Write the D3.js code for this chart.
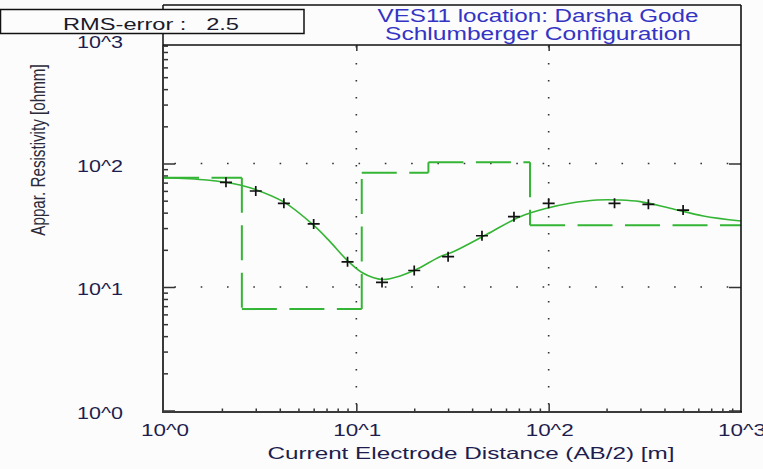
<!DOCTYPE html>
<html>
<head>
<meta charset="utf-8">
<script src="https://cdn.jsdelivr.net/npm/d3@7"></script>
<style>
  html, body { margin: 0; padding: 0; background: #fcfcfc; }
  svg { display: block; font-family: "Liberation Sans", Arial, sans-serif; }
</style>
</head>
<body>
<svg id="chart" width="763" height="469"></svg>
<script>
// Field measurements: half current-electrode spacing (m) and apparent resistivity (ohm-m)
const abHalf = [2.1, 3, 4.2, 6, 9, 13.6, 20, 30, 45, 66, 100, 220, 330, 500];
const rhoApparent = [70.4, 59.9, 47.6, 32.4, 16.0, 10.9, 13.6, 17.6, 26.0, 37.1, 47.6, 47.6, 46.7, 42.0];

// Calculated (model) sounding curve
const modelAB = [1, 1.67, 2.48, 2.97, 4.17, 5.97, 7.3, 8.91, 10.7, 12.3, 13.8, 16.9, 20.6, 27.2, 31.9, 47.7, 71, 97.8, 129, 178, 235, 299, 428, 637, 1000];
const modelRho = [76.7, 73.5, 67.0, 61.8, 49.1, 31.8, 23.3, 16.6, 13.1, 11.9, 11.5, 12.3, 13.9, 17.6, 19.3, 26.7, 37.1, 43.4, 47.6, 50.6, 50.6, 49.1, 43.4, 37.6, 34.2];

// Interpreted layered earth: layer resistivities and depths to layer bottoms
const layerRho = [76.7, 6.63, 84.3, 102.3, 31.6];
const layerDepth = [2.54, 10.67, 23.7, 80.0];

// Axis decades and their labels
const decades = [1, 10, 100, 1000];
const xTickLabels = ["10^0", "10^1", "10^2", "10^3"];
const yTickLabels = ["10^0", "10^1", "10^2", "10^3"];

const titleLines = ["VES11 location: Darsha Gode", "Schlumberger Configuration"];
const rmsLabel = "RMS-error :   2.5";
const xTitle = "Current Electrode Distance (AB/2) [m]";
const yTitle = "Appar. Resistivity [ohmm]";

const svg = d3.select("#chart");
const frame = { left: 163, right: 741, top: 45, bottom: 412 };

const x = d3.scaleLog().domain([1, 1000]).range([164, 741]);
const y = d3.scaleLog().domain([1, 1000]).range([410.5, 40]);

const green = "#35b535";
const ink = "#1e1e4e";

svg.append("rect").attr("width", 763).attr("height", 469).attr("fill", "#fcfcfc");

// clip region for the plotted data
svg.append("clipPath").attr("id", "plotClip")
  .append("rect")
  .attr("x", frame.left).attr("y", frame.top)
  .attr("width", frame.right - frame.left).attr("height", frame.bottom - frame.top);

// dotted grid at the inner decades
const gridVals = decades.filter(d => d > 1 && d < 1000);
svg.append("g").selectAll("line.h").data(gridVals).join("line")
  .attr("x1", frame.left + 11.4).attr("x2", frame.right)
  .attr("y1", d => y(d)).attr("y2", d => y(d))
  .attr("stroke", "#333").attr("stroke-width", 1.6)
  .attr("stroke-dasharray", "1.6 24.7");
svg.append("g").selectAll("line.v").data(gridVals).join("line")
  .attr("x1", d => x(d)).attr("x2", d => x(d))
  .attr("y1", 46).attr("y2", frame.bottom)
  .attr("stroke", "#333").attr("stroke-width", 1.6)
  .attr("stroke-dasharray", "1.6 15.4");

// tick values
const minorVals = [];
[1, 10, 100].forEach(b => d3.range(2, 10).forEach(k => minorVals.push(b * k)));
const yMinor = minorVals.filter(v => y(v) > frame.top && y(v) < frame.bottom);
const yMajor = decades.filter(v => y(v) > frame.top && y(v) < frame.bottom);
const xMajor = decades.filter(v => x(v) > frame.left + 2 && x(v) < frame.right - 2);

function styleAxis(g) {
  g.select(".domain").remove();
  g.selectAll(".tick line").attr("stroke", "#333").attr("stroke-width", 1.5);
  g.selectAll(".tick text").remove();
}

// left axis ticks (inward)
svg.append("g").attr("transform", `translate(${frame.left},0)`)
  .call(d3.axisRight(y).tickValues(yMinor).tickSize(5).tickFormat("")).call(styleAxis);
svg.append("g").attr("transform", `translate(${frame.left},0)`)
  .call(d3.axisRight(y).tickValues(yMajor).tickSize(12).tickFormat("")).call(styleAxis);
// right axis ticks (inward)
svg.append("g").attr("transform", `translate(${frame.right},0)`)
  .call(d3.axisLeft(y).tickValues(yMajor).tickSize(12).tickFormat("")).call(styleAxis);
// bottom axis ticks (inward)
svg.append("g").attr("transform", `translate(0,${frame.bottom})`)
  .call(d3.axisTop(x).tickValues(minorVals.filter(v => v < 1000)).tickSize(3.5).tickFormat("")).call(styleAxis);
svg.append("g").attr("transform", `translate(0,${frame.bottom})`)
  .call(d3.axisTop(x).tickValues(xMajor).tickSize(8).tickFormat("")).call(styleAxis);
// top axis ticks (inward)
svg.append("g").attr("transform", `translate(0,${frame.top})`)
  .call(d3.axisBottom(x).tickValues(xMajor).tickSize(6).tickFormat("")).call(styleAxis);

// layered model as a stepped dashed line, each segment dashed on its own
const stepPts = [];
layerRho.forEach((r, i) => {
  const from = i === 0 ? 1 : layerDepth[i - 1];
  const to = i < layerDepth.length ? layerDepth[i] : 1000;
  stepPts.push([from, r], [to, r]);
});
const stepSegs = d3.pairs(stepPts);
svg.append("g").attr("clip-path", "url(#plotClip)")
  .selectAll("line").data(stepSegs).join("line")
  .attr("x1", d => x(d[0][0])).attr("y1", d => y(d[0][1]))
  .attr("x2", d => x(d[1][0])).attr("y2", d => y(d[1][1]))
  .attr("stroke", green).attr("stroke-width", 2)
  .attr("stroke-dasharray", "35 12.5");

// model curve
const curve = d3.line()
  .x(d => x(d[0])).y(d => y(d[1]))
  .curve(d3.curveCatmullRom.alpha(0.5));
svg.append("path").attr("clip-path", "url(#plotClip)")
  .datum(modelAB.map((a, i) => [a, modelRho[i]]))
  .attr("d", curve)
  .attr("fill", "none").attr("stroke", green).attr("stroke-width", 1.6);

// measured points as crosses
svg.append("g").selectAll("path").data(abHalf.map((a, i) => [a, rhoApparent[i]])).join("path")
  .attr("transform", d => `translate(${x(d[0])},${y(d[1])})`)
  .attr("d", "M-6,0H6M0,-5V5")
  .attr("stroke", "#111").attr("stroke-width", 1.7).attr("fill", "none");

// plot frame
svg.append("line").attr("x1", frame.left).attr("x2", frame.left)
  .attr("y1", frame.top).attr("y2", frame.bottom)
  .attr("stroke", "#3a3a3a").attr("stroke-width", 2);
svg.append("line").attr("x1", frame.left - 1).attr("x2", frame.right + 1)
  .attr("y1", frame.bottom).attr("y2", frame.bottom)
  .attr("stroke", "#3a3a3a").attr("stroke-width", 2);
svg.append("line").attr("x1", frame.right).attr("x2", frame.right)
  .attr("y1", 5).attr("y2", frame.bottom)
  .attr("stroke", "#111").attr("stroke-width", 1.6);
svg.append("line").attr("x1", frame.left).attr("x2", frame.right)
  .attr("y1", frame.top).attr("y2", frame.top)
  .attr("stroke", "#111").attr("stroke-width", 1.6);

// title box
svg.append("line").attr("x1", frame.left).attr("x2", frame.right)
  .attr("y1", 5).attr("y2", 5).attr("stroke", "#111").attr("stroke-width", 1.5);
svg.append("line").attr("x1", frame.left).attr("x2", frame.left)
  .attr("y1", 5).attr("y2", frame.top).attr("stroke", "#111").attr("stroke-width", 1.5);

const titleWidths = [321, 306];
svg.append("g").selectAll("text").data(titleLines).join("text")
  .attr("x", 538).attr("y", (d, i) => 21.5 + i * 18.5)
  .attr("text-anchor", "middle")
  .attr("font-size", 17.5)
  .attr("fill", "#3434c4")
  .attr("textLength", (d, i) => titleWidths[i])
  .attr("lengthAdjust", "spacingAndGlyphs")
  .text(d => d);

// y tick labels (10^3 sits behind the RMS box)
svg.append("g").selectAll("text").data(decades).join("text")
  .attr("x", 123).attr("y", d => y(d) + 8)
  .attr("text-anchor", "end")
  .attr("font-size", 16.3)
  .attr("fill", ink)
  .attr("textLength", 46).attr("lengthAdjust", "spacingAndGlyphs")
  .text((d, i) => yTickLabels[i]);

// RMS box
svg.append("rect").attr("x", 0.5).attr("y", 9.5).attr("width", 303.5).attr("height", 24)
  .attr("fill", "#fcfcfc").attr("stroke", "#111").attr("stroke-width", 1.5);
svg.append("text").attr("x", 63).attr("y", 30)
  .attr("font-size", 16.3).attr("fill", "#1a1a2a")
  .style("white-space", "pre")
  .attr("textLength", 176).attr("lengthAdjust", "spacingAndGlyphs")
  .text(rmsLabel);

// x tick labels
svg.append("g").selectAll("text").data(decades).join("text")
  .attr("x", d => x(d) + 1).attr("y", 436)
  .attr("text-anchor", "middle")
  .attr("font-size", 16.3)
  .attr("fill", ink)
  .attr("textLength", 48).attr("lengthAdjust", "spacingAndGlyphs")
  .text((d, i) => xTickLabels[i]);

// axis titles
svg.append("text").attr("x", 471).attr("y", 459)
  .attr("text-anchor", "middle").attr("font-size", 16.5).attr("fill", ink)
  .attr("textLength", 407).attr("lengthAdjust", "spacingAndGlyphs")
  .text(xTitle);
svg.append("text")
  .attr("transform", "translate(45,150) scale(1.38,1) rotate(-90)")
  .attr("text-anchor", "middle").attr("font-size", 15.2).attr("fill", "#2a2a3a")
  .text(yTitle);
</script>
</body>
</html>
